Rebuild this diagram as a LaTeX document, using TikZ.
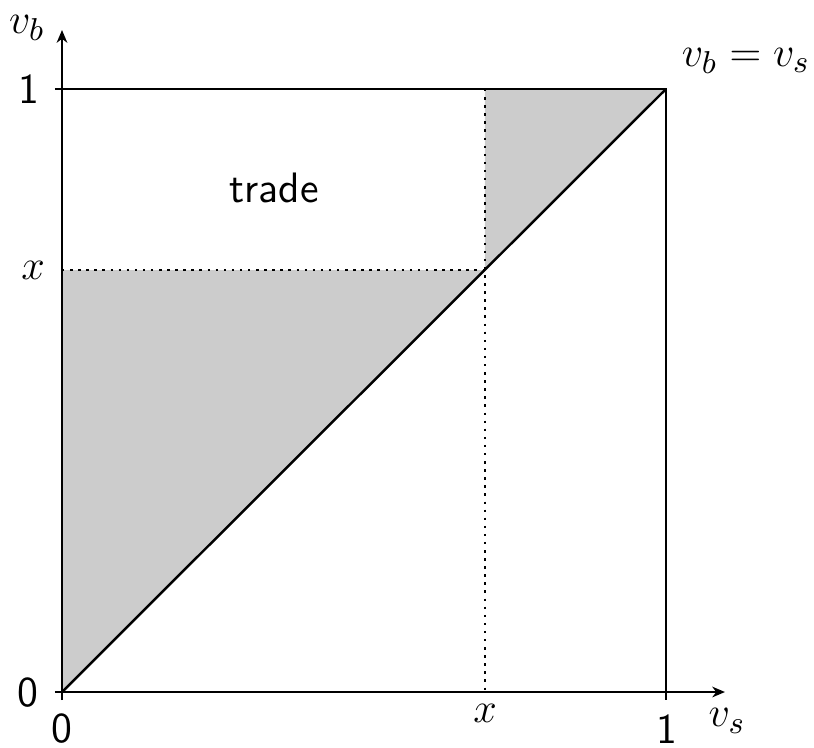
\documentclass[tikz,border=0pt]{standalone}
\usetikzlibrary{arrows.meta}
\begin{document}
\begin{tikzpicture}[x=0.01cm,y=-0.01cm,
  lbl/.style={inner sep=0pt,font=\fontsize{13.2}{15}\selectfont},
  num/.style={inner sep=0pt,font=\fontsize{12.1}{14}\selectfont\sffamily},
  ln/.style={line width=0.7pt},
  dotl/.style={line width=0.75pt,dash pattern=on 0.7pt off 1.6pt},
  axis/.style={ln,-{Stealth[length=3.6pt,width=3pt,inset=1.1pt]}},
  shade/.style={fill=black!20,draw=none}]
\useasboundingbox (0,0) rectangle (814,747);
% key coordinates
\coordinate (O) at (62,692);
\coordinate (X1) at (666,692);
\coordinate (Y1) at (62,89);
\coordinate (TR) at (666,89);
\coordinate (XX) at (485,692);
\coordinate (YX) at (62,270);
\coordinate (D) at (485,270);
\coordinate (DT) at (485,89);
\coordinate (Ob) at (62,700);
\coordinate (Ol) at (55,692);
\coordinate (Y1l) at (55,89);
\coordinate (X1b) at (666,700);
\coordinate (Ytop) at (62,30);
\coordinate (Xend) at (725,692);
% shading
\fill[shade] (O) -- (YX) -- (D) -- cycle;
\fill[shade] (D) -- (DT) -- (TR) -- cycle;
% dotted lines
\draw[dotl] (YX) -- (D);
\draw[dotl] (DT) -- (XX);
% box and diagonal
\draw[ln] (Y1l) -- (TR) -- (X1b);
\draw[ln] (O) -- (TR);
% axes
\draw[axis] (Ob) -- (Ytop);
\draw[axis] (Ol) -- (Xend);
% labels
\node[lbl] (vb) at (27,28) {$v_b$};
\node[num] (l1) at (29,89) {1};
\node[lbl] (lx) at (33,270) {$x$};
\node[num] (l0) at (28,693) {0};
\node[num] (b0) at (62,729) {0};
\node[lbl] (bx) at (485,713) {$x$};
\node[num] (b1) at (667,729) {1};
\node[lbl] (vs) at (727,721) {$v_s$};
\node[lbl] (eq) at (746,61) {$v_b = v_s$};
\node[num] (tr) at (274,188) {trade};
\end{tikzpicture}
\end{document}
